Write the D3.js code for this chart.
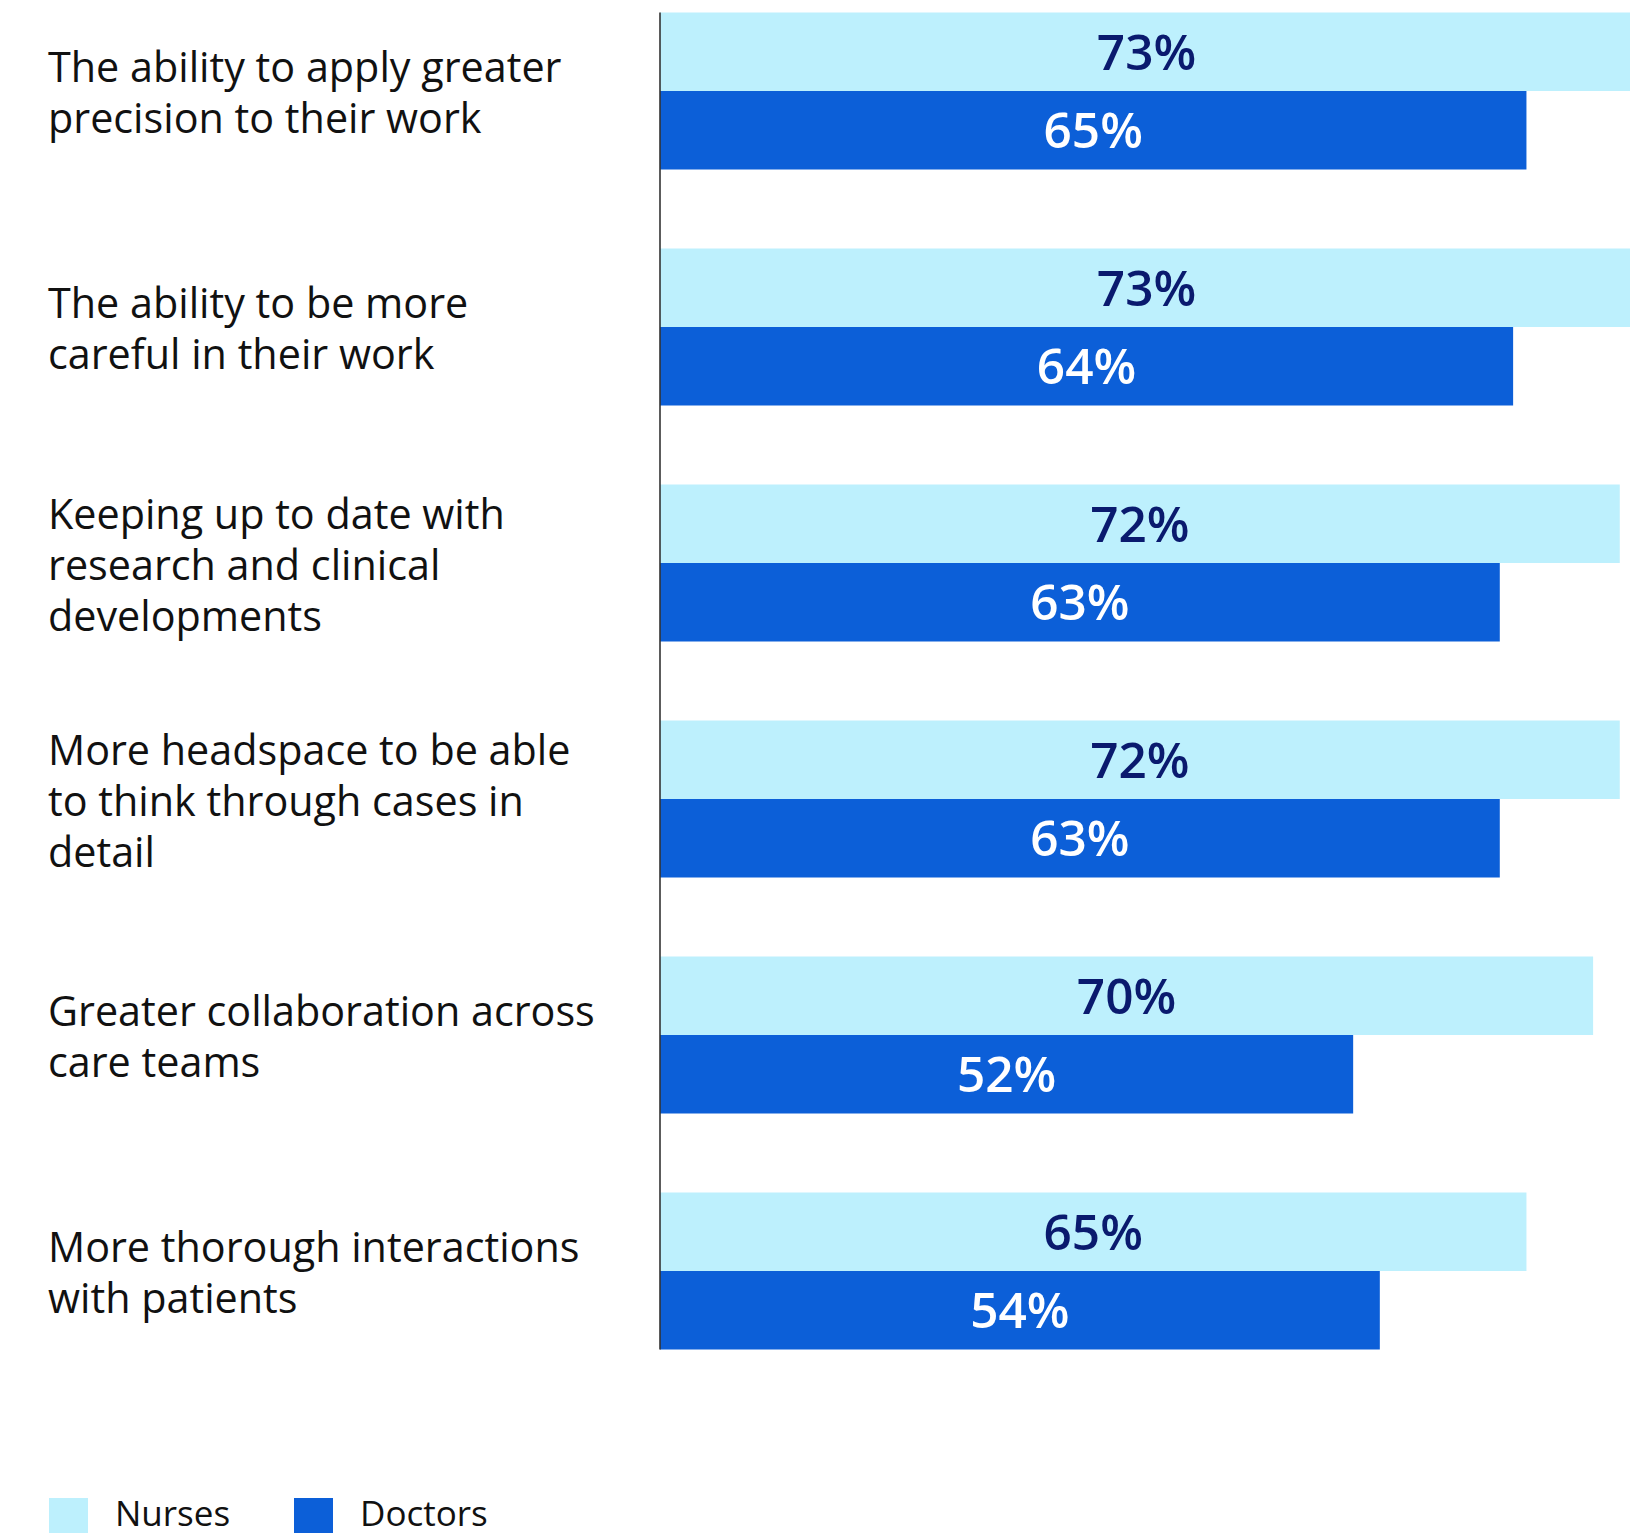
<!DOCTYPE html>
<html>
<head>
<meta charset="utf-8">
<script src="https://cdn.jsdelivr.net/npm/d3@7"></script>
<style>
  html, body { margin: 0; padding: 0; background: #ffffff; }
  svg { display: block; }
</style>
</head>
<body>
<svg id="chart" width="1630" height="1533"></svg>
<script>
// Survey items (each label is split into its printed lines)
const categories = [
  ["The ability to apply greater", "precision to their work"],
  ["The ability to be more", "careful in their work"],
  ["Keeping up to date with", "research and clinical", "developments"],
  ["More headspace to be able", "to think through cases in", "detail"],
  ["Greater collaboration across", "care teams"],
  ["More thorough interactions", "with patients"]
];
const nurses  = [73, 73, 72, 72, 70, 65];
const doctors = [65, 64, 63, 63, 52, 54];
const seriesNames = ["Nurses", "Doctors"];
const seriesColors = ["#bdf0fd", "#0c5fd8"];
const labelColors = ["#0a1a6e", "#ffffff"];

const svg = d3.select("#chart");
const font = "'Open Sans', 'Noto Sans', sans-serif";
const stretch = "95%";

const axisX = 660;
const plotTop = 12.5;
const groupStep = 236;
const barH = 78.5;
const n = categories.length;

// x: percentage -> bar length
const x = d3.scaleLinear().domain([0, 100]).range([0, 1333]);

// y: one band per item; each band holds a nurse bar then a doctor bar
const pad = 1 - (2 * barH) / groupStep;
const y = d3.scaleBand()
  .domain(d3.range(n))
  .range([plotTop, plotTop + groupStep * (n - pad)])
  .paddingInner(pad)
  .paddingOuter(0)
  .align(0);

const sub = d3.scaleBand().domain([0, 1]).range([0, y.bandwidth()]);

const rows = categories.map((c, i) => ({ i, label: c, values: [nurses[i], doctors[i]] }));

const groups = svg.append("g").selectAll("g.item").data(rows).join("g")
  .attr("class", "item")
  .attr("transform", d => `translate(0,${y(d.i)})`);

groups.selectAll("rect").data(d => d.values.map((v, s) => ({ v, s }))).join("rect")
  .attr("x", axisX)
  .attr("y", d => sub(d.s))
  .attr("width", d => x(d.v))
  .attr("height", sub.bandwidth())
  .attr("fill", d => seriesColors[d.s]);

groups.selectAll("text.val").data(d => d.values.map((v, s) => ({ v, s }))).join("text")
  .attr("class", "val")
  .attr("x", d => axisX + x(d.v) / 2)
  .attr("y", d => sub(d.s) + sub.bandwidth() / 2)
  .attr("dy", "0.36em")
  .attr("text-anchor", "middle")
  .attr("font-family", font)
  .attr("font-weight", 600)
  .attr("font-size", 49.5)
  .style("font-stretch", stretch)
  .attr("fill", d => labelColors[d.s])
  .text(d => d.v + "%");

// Item labels, vertically centred on each pair of bars
const lineH = 51;
groups.append("text")
  .attr("font-family", font)
  .attr("font-size", 41.3)
  .style("font-stretch", stretch)
  .attr("fill", "#111111")
  .each(function(d) {
    const k0 = d.label.length;
    const t = d3.select(this);
    d.label.forEach((line, k) => {
      t.append("tspan")
        .attr("x", 48)
        .attr("y", y.bandwidth() / 2 + 2 + (k - (k0 - 1) / 2) * lineH)
        .attr("dy", "0.36em")
        .text(line);
    });
  });

// Baseline axis
svg.append("line")
  .attr("x1", axisX).attr("x2", axisX)
  .attr("y1", plotTop)
  .attr("y2", y(n - 1) + y.bandwidth())
  .attr("stroke", "#333333")
  .attr("stroke-width", 1.6);

// Legend
const legend = svg.append("g").attr("transform", "translate(49,1498)");
const legendX = [0, 245];
seriesNames.forEach((name, s) => {
  const item = legend.append("g").attr("transform", `translate(${legendX[s]},0)`);
  item.append("rect").attr("width", 39).attr("height", 39).attr("fill", seriesColors[s]);
  item.append("text")
    .attr("x", 66).attr("y", 28)
    .attr("font-family", font)
    .attr("font-size", 35)
    .style("font-stretch", stretch)
    .attr("fill", "#111111")
    .text(name);
});
</script>
</body>
</html>
